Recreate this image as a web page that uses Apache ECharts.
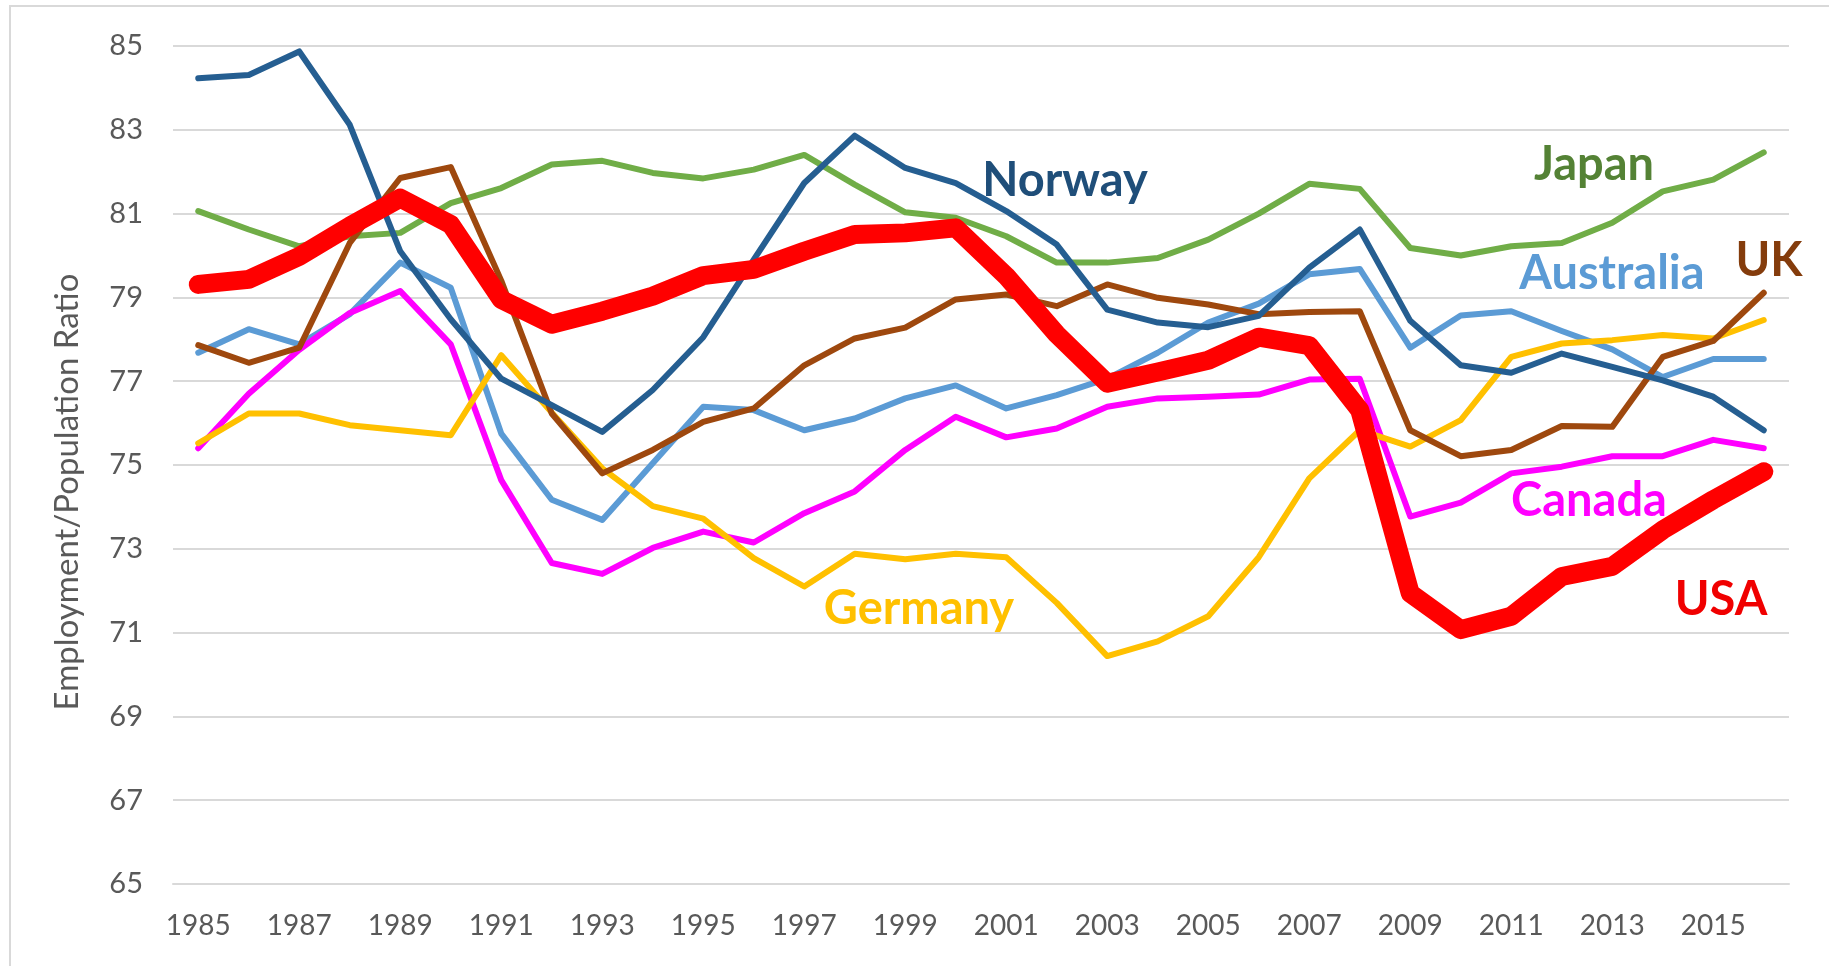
<!DOCTYPE html>
<html>
<head>
<meta charset="utf-8">
<script src="https://cdn.jsdelivr.net/npm/echarts@6/dist/echarts.min.js"></script>
<style>
  html, body { margin: 0; padding: 0; background: #fff; }
  #chart { width: 1829px; height: 966px; }
</style>
</head>
<body>
<div id="chart"></div>
<script>
const years = ['1985','1986','1987','1988','1989','1990','1991','1992','1993','1994',
  '1995','1996','1997','1998','1999','2000','2001','2002','2003','2004',
  '2005','2006','2007','2008','2009','2010','2011','2012','2013','2014','2015','2016']

const norway = [84.23,84.31,84.87,83.12,80.1,78.48,77.06,76.43,75.79,76.79,
  78.05,79.9,81.73,82.86,82.09,81.73,81.06,80.26,78.71,78.4,
  78.29,78.56,79.71,80.62,78.44,77.38,77.2,77.66,77.34,77.02,76.63,75.83]
const japan = [81.06,80.62,80.22,80.46,80.54,81.25,81.61,82.17,82.26,81.97,
  81.84,82.05,82.4,81.69,81.03,80.9,80.46,79.83,79.83,79.94,
  80.38,81.0,81.71,81.59,80.18,80.0,80.22,80.3,80.78,81.53,81.81,82.46]
const uk = [77.86,77.44,77.8,80.3,81.85,82.11,79.4,76.23,74.8,75.36,
  76.03,76.35,77.38,78.02,78.28,78.95,79.07,78.79,79.31,78.99,
  78.83,78.6,78.65,78.67,75.83,75.21,75.36,75.93,75.91,77.58,77.96,79.11]
const australia = [77.68,78.24,77.88,78.6,79.83,79.23,75.75,74.17,73.69,75.04,
  76.39,76.31,75.83,76.11,76.59,76.9,76.35,76.67,77.06,77.68,
  78.4,78.85,79.55,79.68,77.8,78.57,78.67,78.2,77.76,77.1,77.53,77.53]
const canada = [75.4,76.7,77.75,78.63,79.15,77.88,74.64,72.66,72.4,73.02,
  73.41,73.15,73.85,74.37,75.36,76.15,75.66,75.87,76.39,76.59,
  76.63,76.68,77.04,77.06,73.77,74.1,74.8,74.96,75.21,75.21,75.6,75.4]
const germany = [75.52,76.23,76.23,75.95,75.83,75.71,77.62,76.25,74.92,74.02,
  73.72,72.78,72.1,72.88,72.75,72.88,72.8,71.71,70.44,70.79,
  71.39,72.8,74.68,75.83,75.44,76.07,77.58,77.9,77.98,78.1,78.02,78.46]
const usa = [79.31,79.43,79.98,80.7,81.37,80.74,78.95,78.36,78.67,79.03,
  79.52,79.67,80.1,80.5,80.54,80.66,79.51,78.12,76.95,77.22,
  77.5,78.05,77.85,76.31,71.94,71.07,71.39,72.34,72.58,73.45,74.17,74.84]

const font = 'Lato, "DejaVu Sans", sans-serif'

const makeLine = (name, data, color, width) => ({
  name,
  type: 'line',
  data,
  symbol: 'none',
  smooth: false,
  lineStyle: { color, width, join: 'round', cap: 'round' }
})

// country name placed next to its line
const label = (text, x, y, color) => ({
  type: 'text',
  x, y,
  z: 100,
  style: {
    text,
    fill: color,
    font: 'bold 47px ' + font,
    textAlign: 'center',
    textVerticalAlign: 'middle'
  }
})

const chart = echarts.init(document.getElementById('chart'))
chart.setOption({
  animation: false,
  backgroundColor: '#fff',
  grid: { left: 173, right: 40, top: 46, bottom: 82 },
  xAxis: {
    type: 'category',
    data: years,
    boundaryGap: true,
    axisTick: { show: false },
    axisLine: { lineStyle: { color: '#d9d9d9', width: 2 } },
    axisLabel: { interval: 1, color: '#595959', fontSize: 28, fontFamily: font, margin: 28 }
  },
  yAxis: {
    type: 'value',
    min: 65,
    max: 85,
    interval: 2,
    axisLine: { show: false },
    axisTick: { show: false },
    axisLabel: { color: '#595959', fontSize: 29, fontFamily: font, margin: 30 },
    splitLine: { lineStyle: { color: '#d9d9d9', width: 2 } }
  },
  series: [
    makeLine('Australia', australia, '#5B9BD5', 6),
    makeLine('Canada', canada, '#FF00FF', 6),
    makeLine('Germany', germany, '#FFC000', 6),
    makeLine('Japan', japan, '#70AD47', 6),
    makeLine('UK', uk, '#9E480E', 6),
    makeLine('Norway', norway, '#255E91', 6),
    makeLine('USA', usa, '#FF0000', 19)
  ],
  graphic: [
    {
      type: 'rect',
      shape: { x: 10, y: 6, width: 1840, height: 980 },
      style: { fill: 'none', stroke: '#d9d9d9', lineWidth: 2 },
      silent: true
    },
    {
      type: 'text',
      x: 67, y: 492,
      rotation: Math.PI / 2,
      style: {
        text: 'Employment/Population Ratio',
        fill: '#595959',
        font: '33px ' + font,
        textAlign: 'center',
        textVerticalAlign: 'middle'
      }
    },
    label('Norway', 1065, 181, '#1F4E79'),
    label('Japan', 1594, 165, '#548235'),
    label('Australia', 1612, 274, '#5B9BD5'),
    label('UK', 1769, 261, '#843C0C'),
    label('Germany', 919, 609, '#FFC000'),
    label('Canada', 1589, 501, '#FF00FF'),
    label('USA', 1721, 600, '#F00000')
  ]
})

window.addEventListener('resize', () => chart.resize())
</script>
</body>
</html>
